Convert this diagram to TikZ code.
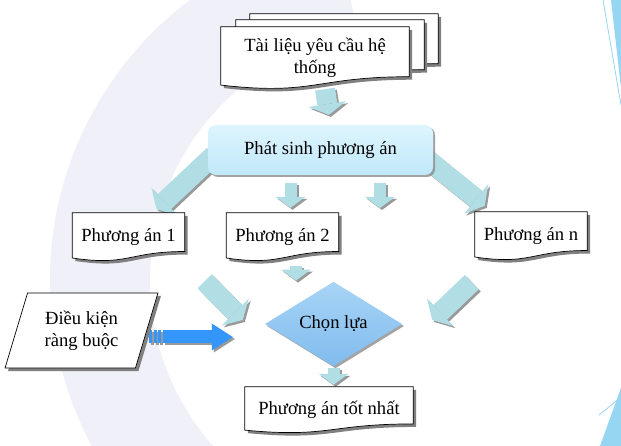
\documentclass[tikz,border=0pt]{standalone}
\usepackage{fontspec}
\setmainfont{Liberation Serif}
\usetikzlibrary{positioning,arrows.meta,shapes.geometric,shadows,calc}

\definecolor{flowteal}{RGB}{176,222,228}
\definecolor{flowblue}{RGB}{52,150,250}
\definecolor{gentop}{RGB}{222,245,253}
\definecolor{genbot}{RGB}{192,232,250}
\definecolor{chtop}{RGB}{168,212,246}
\definecolor{chbot}{RGB}{128,188,238}
\definecolor{logo}{RGB}{240,240,248}
\definecolor{slide}{RGB}{150,214,242}

\pgfdeclarelayer{bg}
\pgfdeclarelayer{back}
\pgfsetlayers{bg,back,main}

% outline of a document sheet (wavy bottom), shifted by #2 right and #3 down
\newcommand{\docoutline}[3]{%
  let \p1=(#1.north west),\p2=(#1.south east),\n1={\y1-\y2},\n2={(\x1+\x2)/2} in
  (\x1+#2,\y1-#3) -- (\x2+#2,\y1-#3) -- (\x2+#2,\y1-0.8*\n1-#3)
  .. controls (\n2+#2,\y1-0.8*\n1-#3) and (\n2+#2,\y1-1.107*\n1-#3)
  .. (\x1+#2,\y1-0.934*\n1-#3) -- cycle}
\newcommand{\docdraw}[1]{%
  \fill[black!50] \docoutline{#1}{3pt}{3pt};
  \filldraw[fill=white,draw=black,line width=0.7pt] \docoutline{#1}{0pt}{0pt};}
% block arrow with its shadow
\newcommand{\shadedlink}[3]{%
  \draw[#1,draw=black!40,transform canvas={shift={(2pt,-2pt)}}] #2 -- #3;
  \draw[#1] #2 -- #3;}

\begin{document}
\begin{tikzpicture}[x=1pt,y=-1pt,font=\fontsize{18.6}{22}\selectfont,
    doc/.style={minimum width=112pt,minimum height=48pt,inner sep=0pt,align=center},
    gen/.style={rounded corners=8pt,minimum width=225pt,minimum height=50pt,
      top color=gentop,bottom color=genbot,
      drop shadow={shadow xshift=2pt,shadow yshift=-2pt,fill=black!45,opacity=.8}},
    choice/.style={diamond,minimum width=137pt,minimum height=62pt,inner sep=0pt,
      top color=chtop,bottom color=chbot,
      drop shadow={shadow xshift=2pt,shadow yshift=-2pt,fill=black!45,opacity=.8}},
    cond/.style={trapezium,trapezium left angle=70,trapezium right angle=110,
      trapezium stretches=true,minimum width=153pt,minimum height=75pt,
      draw,line width=0.7pt,fill=white,align=center,
      drop shadow={shadow xshift=3pt,shadow yshift=-3pt,fill=black!50,opacity=1}},
    fat/.style={line width=20pt,draw=flowteal,-{Triangle[length=11pt,width=38pt,line width=0pt]}},
    thin/.style={line width=12pt,draw=flowteal,-{Triangle[length=11pt,width=30pt,line width=0pt]}},
    push/.style={line width=13pt,draw=flowblue,
      dash pattern=on 3pt off 1.5pt on 3pt off 1.5pt on 3pt off 1.5pt on 300pt,
      -{Triangle[length=21pt,width=27pt,line width=0pt]}}]
  \useasboundingbox (0,0) rectangle (621,446);

  % nodes
  \node[doc,minimum width=188pt,minimum height=62pt] (tl3) at (344,45) {};
  \node[doc,minimum width=188pt,minimum height=62pt] (tl2) at (330,51) {};
  \node[doc,minimum width=188pt,minimum height=62pt] (tl) at (315,58) {Tài liệu yêu cầu hệ\\thống};
  \node[gen] (ps) at (320.5,150) {Phát sinh phương án};
  \node[doc] (p1) at (128.5,237) {Phương án 1};
  \node[doc] (p2) at (282.5,237) {Phương án 2};
  \node[doc] (pn) at (531,236) {Phương án n};
  \coordinate (more) at (380,213);
  \node[choice] (ch) at (333.5,324) {Chọn lựa};
  \node[cond] (dk) at (81.5,330.5) {Điều kiện\\ràng buộc};
  \node[doc,minimum width=168pt,minimum height=46pt] (best) at (329,410) {Phương án tốt nhất};
  \coordinate (bt) at ($(dk.east)+(2,6.5)$);

  \begin{pgfonlayer}{bg}
    \fill[white] (0,0) rectangle (621,446);
    \draw[logo,line width=100pt] ([shift={(100:300pt)}]400,280) arc[start angle=100,end angle=250,radius=300pt];
    \fill[slide] (611,0) -- (621,0) -- (621,88) -- cycle;
    \draw[slide,line width=0.8pt] (603,0) -- (621,105);
    \fill[slide] (621,388) -- (621,446) -- (600,446) -- cycle;
    \draw[slide,line width=0.8pt] (599,415) -- (621,397);
  \end{pgfonlayer}

  \begin{pgfonlayer}{back}
    % connectors
    \shadedlink{fat,shorten >=10pt}{([xshift=10pt]tl.south)}{([xshift=10pt]ps.north)}
    \shadedlink{fat,shorten >=1pt}{($(ps.south west)+(6,-20)$)}{($(p1.north east)+(-29,-3)$)}
    \shadedlink{thin,shorten <=8pt,shorten >=5pt}{($(ps.south -| p2.north)+(8,0)$)}{($(p2.north)+(8,0)$)}
    \shadedlink{thin,shorten <=8pt,shorten >=5pt}{(ps.south -| more)}{(more)}
    \shadedlink{fat}{($(ps.south east)+(-6,-16)$)}{($(pn.north west)+(10,-6)$)}
    \shadedlink{thin}{($(p2.south)+(13.5,5)$)}{($(ch.north)+(-37.5,-1)$)}
    \shadedlink{fat}{($(p1.south east)+(20,20)$)}{($(ch.west)+(-22,-4)$)}
    \shadedlink{fat}{($(pn.south west)+(-3,22)$)}{($(ch.east)+(30,-4)$)}
    \shadedlink{thin}{($(ch.south)+(0,2)$)}{($(best.north)+(4.5,-2)$)}
    \shadedlink{push,shorten >=32pt}{(bt)}{(bt -| ch.west)}
    % sheets
    \docdraw{tl3}
    \docdraw{tl2}
    \docdraw{tl}
    \docdraw{p1}
    \docdraw{p2}
    \docdraw{pn}
    \docdraw{best}
  \end{pgfonlayer}
\end{tikzpicture}
\end{document}
